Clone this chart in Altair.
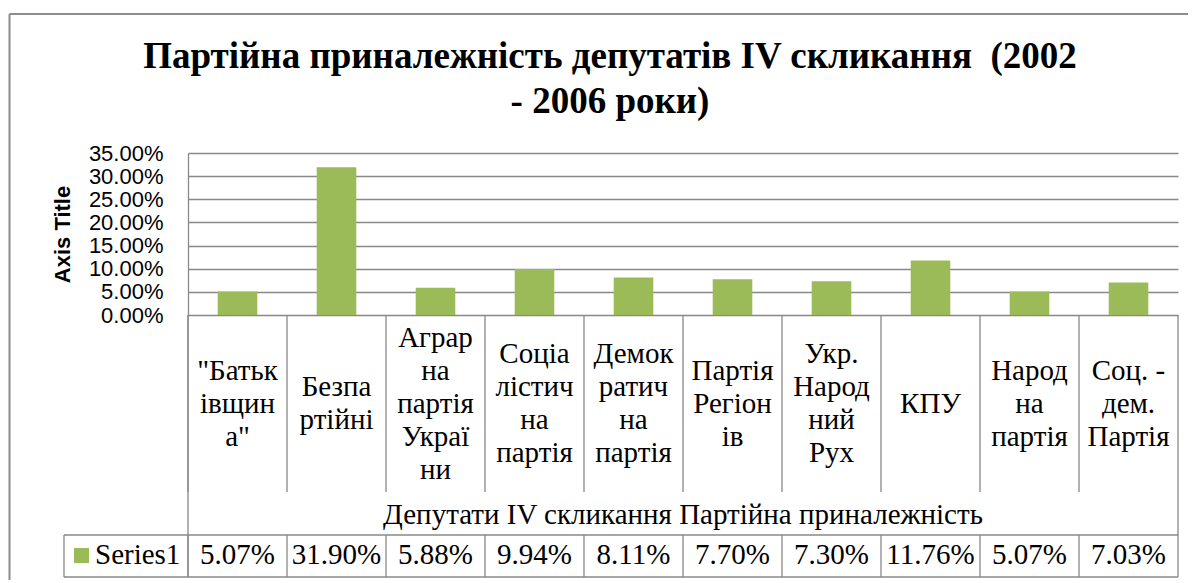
import altair as alt
import pandas as pd

# ---- data -------------------------------------------------------------
parties = ['"Батьківщина"', "Безпартійні", "Аграрна партія України",
           "Соціалістична партія", "Демократична партія", "Партія Регіонів",
           "Укр. Народний Рух", "КПУ", "Народна партія", "Соц. - дем. Партія"]
labels = ['"Батьк\nівщин\nа"', "Безпа\nртійні", "Аграр\nна\nпартія\nУкраї\nни",
          "Соціа\nлістич\nна\nпартія", "Демок\nратич\nна\nпартія", "Партія\nРегіон\nів",
          "Укр.\nНарод\nний\nРух", "КПУ", "Народ\nна\nпартія", "Соц. -\nдем.\nПартія"]
shares = [0.0507, 0.3190, 0.0588, 0.0994, 0.0811, 0.0770, 0.0730, 0.1176, 0.0507, 0.0703]
y_ticks = [0.0, 0.05, 0.10, 0.15, 0.20, 0.25, 0.30, 0.35]
title_lines = ["Партійна приналежність депутатів IV скликання \u00a0(2002", "- 2006 роки)"]
x_title = ["Депутати IV скликання Партійна приналежність"]
y_title = "Axis Title"
series_name = ["Series1"]

df = pd.DataFrame({"party": parties, "label": labels, "share": shares})
df["nlines"] = [len(s.split("\n")) for s in labels]
one = pd.DataFrame({"k": [0]})
leg = pd.DataFrame({"name": series_name})
xt = pd.DataFrame({"t": x_title})

# ---- style ------------------------------------------------------------
W, H = 990, 162
GREEN = "#9BBB59"
GRID = "#888888"
SERIF = "Liberation Serif"
SANS = "Liberation Sans"
LW = 1.3
FS = 29          # table font size
LH = 33          # table line height
CAT_MID = 250.5  # vertical centre of the category cells (px from plot top)

xscale = alt.Scale(paddingInner=0, paddingOuter=0)

def xenc(band=0.5):
    return alt.X("party:N", sort=parties, scale=xscale, axis=None, bandPosition=band)

y_axis = alt.Axis(values=y_ticks, format=".2%", labelFont=SANS, labelFontSize=22,
                  labelColor="black", labelPadding=25, labelOverlap=False,
                  ticks=False, domain=True, domainColor=GRID, domainWidth=LW,
                  grid=True, gridColor=GRID, gridWidth=LW,
                  title=y_title, titleFont=SANS, titleFontSize=22,
                  titleFontWeight="bold", titleColor="black", titleX=-126,
                  titleY=81, titleAngle=270, titleAlign="center",
                  titleBaseline="middle")

bars = alt.Chart(df).mark_bar(color=GREEN, width=alt.RelativeBandSize(0.4)).encode(
    x=xenc(),
    y=alt.Y("share:Q", scale=alt.Scale(domain=[0, 0.35], nice=False), axis=y_axis),
)

cat_layers = []
for n in sorted(set(df["nlines"])):
    cat_layers.append(
        alt.Chart(df).transform_filter(alt.datum.nlines == n).mark_text(
            font=SERIF, fontSize=FS, lineBreak="\n", lineHeight=LH,
            baseline="middle", align="center", color="black").encode(
            x=xenc(), y=alt.value(CAT_MID - (n - 1) * LH / 2), text="label:N"))

val_text = alt.Chart(df).mark_text(font=SERIF, fontSize=FS, baseline="middle",
                                   align="center", color="black").encode(
    x=xenc(), y=alt.value(402), text=alt.Text("share:Q", format=".2%"))

xtitle_text = alt.Chart(xt).mark_text(font=SERIF, fontSize=FS, baseline="middle",
                                      align="center", color="black").encode(
    x=alt.value(W / 2), y=alt.value(362), text="t:N")

sep_top = alt.Chart(df).mark_rule(color=GRID, strokeWidth=LW).encode(
    x=xenc(band=0), y=alt.value(H), y2=alt.value(339))
sep_bot = alt.Chart(df).mark_rule(color=GRID, strokeWidth=LW).encode(
    x=xenc(band=0), y=alt.value(382), y2=alt.value(424))
left_full = alt.Chart(df).transform_filter(
    alt.datum.party == parties[0]).mark_rule(color=GRID, strokeWidth=LW).encode(
    x=xenc(band=0), y=alt.value(H), y2=alt.value(424))
right_full = alt.Chart(df).transform_filter(
    alt.datum.party == parties[-1]).mark_rule(color=GRID, strokeWidth=LW).encode(
    x=xenc(band=1), y=alt.value(H), y2=alt.value(424))

row_top = alt.Chart(one).mark_rule(color=GRID, strokeWidth=LW).encode(
    x=alt.value(-124), x2=alt.value(W), y=alt.value(382))
row_bot = alt.Chart(one).mark_rule(color=GRID, strokeWidth=LW).encode(
    x=alt.value(-124), x2=alt.value(W), y=alt.value(424))
leg_left = alt.Chart(one).mark_rule(color=GRID, strokeWidth=LW).encode(
    x=alt.value(-124), y=alt.value(382), y2=alt.value(424))

border_top = alt.Chart(one).mark_rule(color="#8c8c8c", strokeWidth=2).encode(
    x=alt.value(-178.5), x2=alt.value(1100), y=alt.value(-139))
border_left = alt.Chart(one).mark_rule(color="#8c8c8c", strokeWidth=2).encode(
    x=alt.value(-178.5), y=alt.value(-139), y2=alt.value(600))

leg_sq = alt.Chart(leg).mark_square(size=225, color=GREEN, opacity=1).encode(
    x=alt.value(-106.5), y=alt.value(402.5))
leg_txt = alt.Chart(leg).mark_text(font=SERIF, fontSize=FS, baseline="middle",
                                   align="left", color="black").encode(
    x=alt.value(-93), y=alt.value(402), text="name:N")

chart = alt.layer(
    bars, sep_top, sep_bot, left_full, right_full, row_top, row_bot, leg_left,
    border_top, border_left, *cat_layers, val_text, xtitle_text, leg_sq, leg_txt,
).properties(
    width=W, height=H,
    autosize=alt.AutoSizeParams(type="none"),
    padding={"left": 180, "top": 145, "right": 10, "bottom": 265},
    background="white",
    title=alt.TitleParams(text=title_lines, font=SERIF, fontSize=37,
                          fontWeight="bold", color="black", anchor="middle",
                          dx=-73, offset=-108, lineHeight=45),
).configure_view(strokeWidth=0)

chart.save("out.html", embed_options={"renderer": "svg", "actions": False})
